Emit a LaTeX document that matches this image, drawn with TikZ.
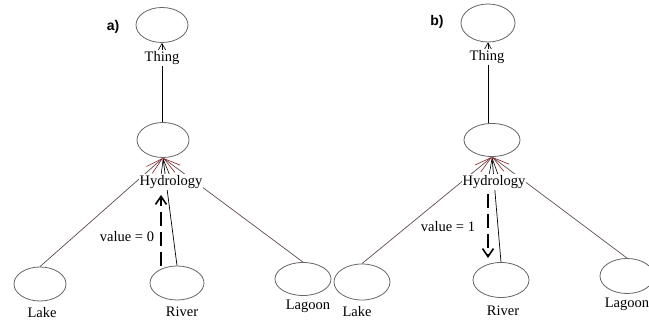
\documentclass[tikz,border=0pt]{standalone}
\usepackage{fontspec}
\setmainfont{Liberation Serif}
\newfontfamily\labsans{Liberation Sans}
\usetikzlibrary{shapes.geometric,arrows.meta,backgrounds}
\definecolor{edgegray}{rgb}{0.38,0.30,0.30}
\definecolor{tipred}{rgb}{0.55,0.12,0.12}
\begin{document}
\begin{tikzpicture}[x=1pt,y=-1pt,
  oval/.style={draw=black!60, ellipse, line width=0.8pt, inner sep=0pt,
               minimum width=52pt, minimum height=35pt},
  lbl/.style={fill=white, inner sep=1pt, font=\fontsize{14.5}{16}\selectfont},
  plain/.style={inner sep=1pt, font=\fontsize{14.5}{16}\selectfont},
  panel/.style={inner sep=0pt, font=\labsans\bfseries\fontsize{14}{16}\selectfont},
  edge/.style={line width=0.7pt, draw=edgegray},
  fan/.style={-{Straight Barb[length=17pt,width=9pt,line width=0.6pt]}},
  fanred/.style={-{Straight Barb[length=17pt,width=9pt,line width=0.6pt,color=tipred]}},
  uparrow/.style={line width=0.7pt, draw=black, -{Straight Barb[length=8pt,width=9pt,line width=0.6pt]}},
  dasharrow/.style={line width=2pt, dash pattern=on 14pt off 6pt,
                    -{Straight Barb[length=8pt,width=11pt,line width=1.6pt]}}]
\useasboundingbox (0,0) rectangle (649,323);
\clip (0,0) rectangle (649,323);
\begin{scope}[on background layer]
\fill[white] (0,0) rectangle (649,323);
\end{scope}

% ---------- panel a ----------
\node[panel] (pa) at (113,27) {a)};
\node[oval] (thingA) at (162,25) {};
\node[oval] (hydA) at (163,140) {};
\node[oval, minimum width=52pt, minimum height=34pt] (lakeA) at (40,284) {};
\node[oval, minimum width=54pt, minimum height=34pt] (riverA) at (177,283) {};
\node[oval, minimum width=56pt, minimum height=33pt] (lagoonA) at (303,279) {};
\coordinate (dA1) at (161,266);
\coordinate (dA2) at (161,195);

\begin{scope}[on background layer]
\draw[edge, uparrow] (hydA.north -| thingA.south) -- (thingA.south);
\draw[edge, fanred] (lakeA.north) -- (hydA.south);
\draw[edge, draw=black, fan] (riverA.north) -- (hydA.south);
\draw[edge, fanred] (lagoonA.north) -- (hydA.south);
\end{scope}
\draw[dasharrow] (dA1) -- (dA2);

\node[lbl] (tThingA) at (162,58) {Thing};
\node[lbl] (tHydA) at (171,182) {Hydrology};
\node[plain] (valA) at (127,237) {value = 0};
\node[plain] (tLakeA) at (42,313) {Lake};
\node[plain] (tRiverA) at (182,312) {River};
\node[plain] (tLagoonA) at (308,306) {Lagoon};

% ---------- panel b ----------
\node[panel] (pb) at (437,22) {b)};
\node[oval, minimum width=54pt, minimum height=38pt] (thingB) at (488,23) {};
\node[oval, minimum width=56pt, minimum height=33pt] (hydB) at (492,140) {};
\node[oval, minimum width=56pt, minimum height=36pt] (lakeB) at (362,282) {};
\node[oval, minimum width=56pt, minimum height=35pt] (riverB) at (501,280) {};
\node[oval, minimum width=54pt, minimum height=35pt] (lagoonB) at (627,276) {};
\coordinate (dB1) at (488,194);
\coordinate (dB2) at (488,258);

\begin{scope}[on background layer]
\draw[edge, uparrow] (hydB.north -| thingB.south) -- (thingB.south);
\draw[edge, fanred] (lakeB.north) -- (hydB.south);
\draw[edge, draw=black, fan] (riverB.north) -- (hydB.south);
\draw[edge, fanred] (lagoonB.north) -- (hydB.south);
\end{scope}
\draw[dasharrow] (dB1) -- (dB2);

\node[lbl] (tThingB) at (487,57) {Thing};
\node[lbl] (tHydB) at (494,182) {Hydrology};
\node[plain] (valB) at (448,227) {value = 1};
\node[plain] (tLakeB) at (357,312) {Lake};
\node[plain] (tRiverB) at (503,311) {River};
\node[plain] (tLagoonB) at (627,304) {Lagoon};
\end{tikzpicture}
\end{document}
